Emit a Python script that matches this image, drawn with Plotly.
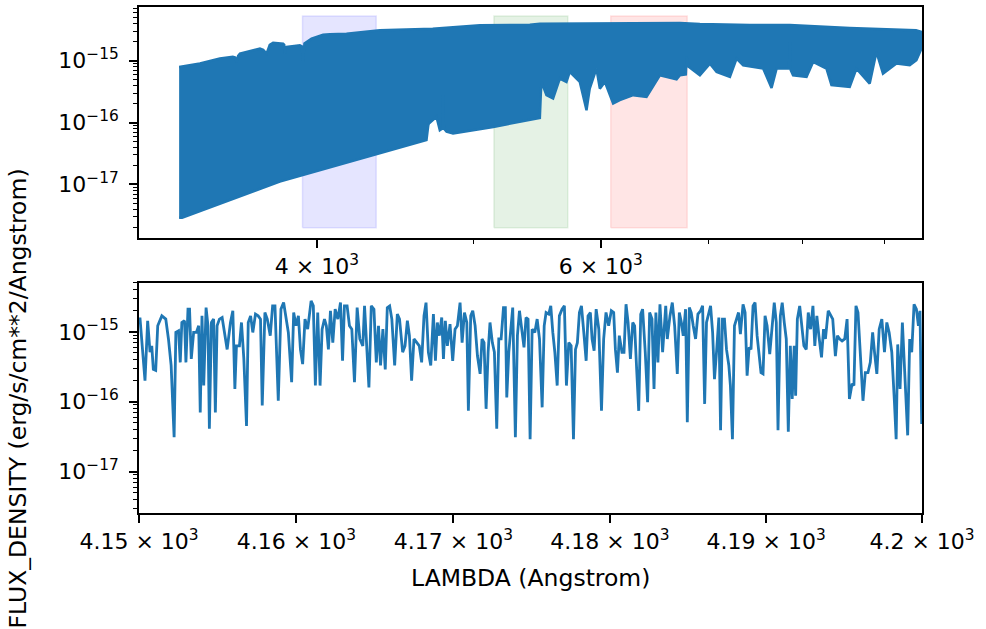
import numpy as np
import plotly.graph_objects as go

# ---------------- data ----------------
FLUX_UNIT = 1e-15  # flux values below are in units of 1e-15 erg/s/cm**2/Angstrom

# Top panel: envelope of the densely sampled full spectrum (Angstrom, flux units)
upper_lambda = [3286, 3385, 3483, 3548, 3560, 3567, 3575, 3584, 3688, 3705, 3723, 3740, 3758,
                3812, 3818, 3822, 3826, 3831, 3904, 3915, 3922, 3930, 3970, 4036, 4075, 4173,
                4376, 4720, 5049, 5422, 5500, 6104, 6718, 6912, 7422, 7859, 8561, 9411, 9492]
upper_flux = [0.79, 0.90, 1.08, 1.15, 1.12, 0.95, 1.20, 1.30, 1.56, 1.50, 1.30, 1.80, 1.95,
              1.88, 1.80, 1.30, 1.60, 1.66, 1.77, 1.70, 0.95, 1.90, 2.26, 2.63, 2.67, 2.73,
              3.09, 3.28, 3.72, 3.81, 3.95, 3.95, 4.05, 3.91, 3.77, 3.77, 3.37, 3.09, 2.90]

lower_lambda = [3286, 3300, 3794, 4075, 4356, 4678, 4690, 4694, 4745, 4760, 4768, 4785, 4790,
                4796, 4814, 4859, 5146, 5500, 5508, 5513, 5552, 5605, 5659, 5713, 5740, 5823,
                5879, 5906, 5963, 5992, 6035, 6107, 6165, 6284, 6405, 6528, 6686, 6718, 6775,
                6782, 6800, 6912, 7012, 7079, 7215, 7284, 7353, 7566, 7657, 7712, 7850, 7859,
                7870, 7896, 8049, 8125, 8282, 8341, 8561, 8644, 8809, 8894, 8978, 9152, 9327,
                9416, 9484]
lower_flux = [0.0029, 0.0029, 0.0111, 0.0186, 0.0305, 0.052, 0.09, 0.096, 0.124, 0.09, 0.075,
              0.08, 0.277, 0.08, 0.071, 0.0665, 0.085, 0.119, 0.3, 0.453, 0.277, 0.244, 0.513,
              0.453, 0.657, 0.453, 0.158, 0.353, 0.743, 0.353, 0.453, 0.2025, 0.23, 0.277, 0.26,
              0.581, 0.50, 0.58, 0.6, 1.15, 0.8, 0.58, 0.895, 0.657, 0.546, 1.077, 0.843, 0.743,
              0.363, 0.743, 0.75, 2.0, 0.7, 0.581, 0.546, 0.953, 0.743, 0.401, 0.377, 0.743,
              0.426, 1.381, 0.617, 0.895, 0.843, 1.015, 1.561]

# Filter bands (Angstrom) and their vertical extent (flux units)
band_names = ["B", "V", "R"]
band_start = [3919, 5151, 6086]
band_end = [4354, 5724, 6788]
band_colors = ["rgba(0,0,255,0.10)", "rgba(0,128,0,0.10)", "rgba(255,0,0,0.10)"]
band_flux_low = 0.0020
band_flux_high = 5.26

# Bottom panel: zoom 4150-4200 Angstrom
zoom_lambda = [
    4150.06, 4150.21, 4150.38, 4150.55, 4150.70, 4150.81, 4150.91, 4151.06, 4151.19, 4151.45,
    4151.70, 4151.87, 4152.04, 4152.23, 4152.34, 4152.51, 4152.62, 4152.72, 4152.89, 4152.98,
    4153.11, 4153.21, 4153.32, 4153.47, 4153.64, 4153.79, 4153.89, 4154.00, 4154.11, 4154.26,
    4154.38, 4154.47, 4154.60, 4154.74, 4154.85, 4154.96, 4155.11, 4155.28, 4155.45, 4155.60,
    4155.81, 4155.96, 4156.09, 4156.19, 4156.38, 4156.51, 4156.66, 4156.83, 4156.94, 4157.09,
    4157.23, 4157.40, 4157.57, 4157.72, 4157.83, 4158.00, 4158.15,
    4158.34, 4158.49, 4158.64, 4158.85, 4159.02, 4159.19, 4159.34, 4159.49, 4159.70, 4159.83,
    4159.98, 4160.13, 4160.26, 4160.40, 4160.55, 4160.72, 4160.94, 4161.08, 4161.21, 4161.36,
    4161.51, 4161.64, 4161.79, 4161.91, 4162.04, 4162.17, 4162.32, 4162.47, 4162.64, 4162.81,
    4162.94, 4163.06, 4163.23, 4163.38, 4163.53, 4163.70, 4163.87, 4164.04, 4164.23, 4164.34,
    4164.49, 4164.62, 4164.77, 4164.94, 4165.09, 4165.23, 4165.36, 4165.51, 4165.66, 4165.79,
    4165.94, 4166.08, 4166.26, 4166.43, 4166.57,
    4166.77, 4166.92, 4167.07, 4167.20, 4167.34, 4167.49, 4167.66, 4167.83, 4167.98, 4168.13,
    4168.26, 4168.41, 4168.56, 4168.73, 4168.86, 4168.98, 4169.11, 4169.26, 4169.37, 4169.49,
    4169.62, 4169.79, 4169.96, 4170.11, 4170.26, 4170.43, 4170.56, 4170.71, 4170.86, 4170.96,
    4171.11, 4171.24, 4171.39, 4171.54, 4171.71, 4171.83, 4171.96, 4172.09, 4172.22, 4172.34,
    4172.49, 4172.62, 4172.77, 4172.90, 4173.05, 4173.20, 4173.32, 4173.41, 4173.54, 4173.66,
    4173.79, 4173.96, 4174.09, 4174.22, 4174.37, 4174.51, 4174.64, 4174.77, 4174.90, 4175.03,
    4175.20, 4175.35, 4175.50, 4175.67, 4175.80, 4175.92, 4176.09, 4176.22, 4176.35, 4176.48,
    4176.63, 4176.77, 4176.94, 4177.09, 4177.22, 4177.37, 4177.52, 4177.67, 4177.80, 4177.92,
    4178.05, 4178.18, 4178.33, 4178.48, 4178.60, 4178.75, 4178.86, 4178.99, 4179.12, 4179.29,
    4179.46, 4179.60, 4179.75, 4179.92, 4180.09, 4180.24, 4180.35, 4180.48, 4180.60, 4180.77,
    4180.90, 4181.03, 4181.16, 4181.31, 4181.46, 4181.58, 4181.71, 4181.84, 4181.97, 4182.09,
    4182.26, 4182.41, 4182.54, 4182.69, 4182.82, 4182.94, 4183.07, 4183.20, 4183.37,
    4183.46, 4183.57, 4183.67, 4183.84, 4183.99, 4184.14, 4184.31, 4184.44, 4184.57, 4184.69,
    4184.84, 4184.95, 4185.08, 4185.20, 4185.33, 4185.48, 4185.63, 4185.80, 4185.93, 4186.06,
    4186.18, 4186.33, 4186.44, 4186.57, 4186.69, 4186.82, 4186.97, 4187.08, 4187.20, 4187.33,
    4187.46, 4187.61, 4187.71, 4187.84, 4187.97, 4188.10, 4188.23, 4188.35, 4188.52, 4188.65,
    4188.78, 4188.91, 4189.03, 4189.16, 4189.29, 4189.42, 4189.54, 4189.67, 4189.80, 4189.93,
    4190.06, 4190.23, 4190.37, 4190.52, 4190.65, 4190.76, 4190.91, 4191.03, 4191.16, 4191.29,
    4191.42, 4191.55, 4191.67, 4191.80,
    4191.89, 4192.00, 4192.15, 4192.27, 4192.42, 4192.57, 4192.70, 4192.85, 4193.00, 4193.12,
    4193.25, 4193.38, 4193.55, 4193.68, 4193.80, 4193.98, 4194.12, 4194.27, 4194.44, 4194.57,
    4194.72, 4194.87, 4195.04, 4195.19, 4195.34, 4195.51, 4195.63, 4195.76, 4195.89, 4196.04,
    4196.21, 4196.36, 4196.53, 4196.68, 4196.83, 4196.95, 4197.10, 4197.25, 4197.42, 4197.59,
    4197.74, 4197.89, 4198.06, 4198.23, 4198.34, 4198.44, 4198.59, 4198.74, 4198.91, 4199.08,
    4199.21, 4199.34, 4199.49, 4199.64, 4199.77, 4199.87, 4199.98,
]
zoom_flux = [
    1.60, 0.51, 0.20, 1.44, 0.51, 0.63, 0.29, 0.28, 1.22, 1.69,
    1.52, 0.79, 0.33, 0.031, 0.98, 1.03, 0.365, 1.36, 1.44, 0.365,
    2.11, 2.11, 0.41, 0.98, 0.98, 1.22, 0.070, 1.69, 0.17, 2.22,
    1.22, 0.041, 1.36, 1.52, 0.070, 1.22, 1.52, 1.60, 0.98, 0.56,
    1.36, 2.0, 0.152, 0.63, 0.63, 1.36, 0.41, 0.045, 1.36, 1.69,
    0.98, 1.79, 1.69, 1.52, 0.088, 1.89, 1.52,
    0.88, 2.35, 2.35, 0.103, 2.11, 2.62, 1.52, 0.98, 0.19, 1.89,
    1.22, 1.69, 0.56, 0.345, 1.52, 1.09, 2.77, 2.35, 0.17, 1.89,
    0.17, 1.09, 1.52, 1.22, 0.56, 2.0, 0.70, 2.11, 1.52, 2.62,
    0.385, 2.35, 2.35, 1.22, 1.09, 0.19, 2.22, 0.79, 0.63, 2.35,
    0.56, 0.16, 2.35, 2.11, 0.365, 1.22, 0.33, 1.09, 0.29, 2.22,
    2.35, 1.52, 0.33, 1.79, 1.52,
    0.51, 0.63, 1.44, 0.88, 0.20, 0.79, 0.70, 0.63, 0.365, 1.69,
    2.62, 0.51, 0.33, 1.79, 0.385, 1.36, 0.88, 1.60, 0.41, 1.44,
    0.63, 1.29, 0.385, 1.09, 1.22, 2.62, 0.70, 1.89, 1.36, 0.074,
    1.69, 2.0, 1.22, 0.45, 0.25, 0.79, 0.70, 0.079, 0.51, 1.36,
    0.70, 0.51, 0.041, 0.79, 0.79, 2.22, 2.22, 0.115, 0.51, 1.09,
    2.22, 0.031, 0.88, 2.0, 0.98, 0.60, 1.60, 1.52, 0.029, 1.09,
    0.98, 1.52, 0.79, 0.083, 1.22, 1.89, 1.79, 2.35, 0.98, 0.51,
    0.17, 1.69, 2.11, 2.35, 0.17, 0.70, 0.63, 0.029, 0.56, 0.70,
    1.89, 2.35, 0.98, 0.385, 1.69, 1.89, 0.79, 0.535, 2.11, 1.09,
    0.074, 0.79, 1.89, 1.22, 2.0, 1.89, 0.56, 0.26, 0.88, 0.51,
    0.51, 2.48, 1.36, 0.41, 1.36, 1.22, 0.29, 0.074, 1.79, 2.11,
    0.51, 0.098, 1.89, 1.52, 0.152, 1.89, 0.365, 2.48, 0.51,
    1.09, 2.35, 0.79, 1.69, 2.62, 1.22, 0.25, 1.89, 1.36, 0.88,
    2.11, 0.051, 2.22, 1.89, 1.22, 0.79, 1.79, 2.0, 2.35, 0.093,
    1.36, 1.89, 2.35, 0.98, 0.21, 0.51, 1.60, 0.039, 1.52, 1.52,
    0.56, 0.33, 0.17, 0.029, 1.22, 1.52, 1.89, 0.93, 2.48, 1.89,
    0.235, 0.60, 0.56, 2.35, 2.62, 0.88, 0.51, 0.26, 0.25, 1.69,
    1.22, 0.48, 1.09, 2.62, 1.36, 0.039, 1.69, 2.62, 1.36, 0.79,
    0.037, 0.63, 0.109, 0.63,
    0.122, 1.52, 2.35, 1.22, 0.63, 0.56, 1.89, 1.09, 2.35, 0.63,
    1.69, 0.88, 0.43, 1.09, 0.79, 2.0, 1.79, 1.52, 0.45, 0.88,
    0.79, 0.74, 0.79, 1.52, 0.109, 0.18, 0.17, 2.35, 1.89, 0.51,
    0.103, 0.26, 0.26, 0.365, 0.98, 0.51, 0.25, 1.09, 1.52, 0.51,
    1.36, 0.98, 0.51, 0.098, 0.029, 0.66, 0.152, 1.36, 0.26, 0.033,
    0.79, 0.51, 2.48, 2.11, 1.22, 2.0, 0.048,
]
assert len(zoom_lambda) == len(zoom_flux)
assert len(upper_lambda) == len(upper_flux)
assert len(lower_lambda) == len(lower_flux)

# Axis limits / ticks
top_xlim = [3103, 9492]
top_ylim = [1.36e-18, 7.35e-15]
bot_xlim = [4150, 4200]
bot_ylim = [2.55e-18, 5.06e-15]
top_xticks = [4000, 6000]
top_xticktext = ["4 × 10<sup>3</sup>", "6 × 10<sup>3</sup>"]
top_xminor = [5000, 7000, 8000, 9000]
bot_xticks = [4150, 4160, 4170, 4180, 4190, 4200]
bot_xticktext = ["4.15 × 10<sup>3</sup>", "4.16 × 10<sup>3</sup>", "4.17 × 10<sup>3</sup>",
                 "4.18 × 10<sup>3</sup>", "4.19 × 10<sup>3</sup>", "4.2 × 10<sup>3</sup>"]
y_decades = [-17, -16, -15]

# ---------------- figure ----------------
BLUE = "#1f77b4"
FONT = "DejaVu Sans"
fig = go.Figure()

# filter bands
for name, x0, x1, col in zip(band_names, band_start, band_end, band_colors):
    fig.add_trace(go.Scatter(
        x=[x0, x1, x1, x0, x0],
        y=[band_flux_low * FLUX_UNIT, band_flux_low * FLUX_UNIT, band_flux_high * FLUX_UNIT,
           band_flux_high * FLUX_UNIT, band_flux_low * FLUX_UNIT],
        fill="toself", fillcolor=col, line=dict(color=col, width=1.5),
        mode="lines", hoverinfo="skip", showlegend=False, xaxis="x", yaxis="y", name=name))

# full spectrum (dense, drawn as its envelope)
poly_x = list(upper_lambda) + list(lower_lambda[::-1])
poly_y = list(np.array(upper_flux) * FLUX_UNIT) + list(np.array(lower_flux[::-1]) * FLUX_UNIT)
fig.add_trace(go.Scatter(x=poly_x, y=poly_y, fill="toself", fillcolor=BLUE,
                         line=dict(color=BLUE, width=2.5), mode="lines",
                         showlegend=False, xaxis="x", yaxis="y"))

# zoomed spectrum
fig.add_trace(go.Scatter(x=zoom_lambda, y=np.array(zoom_flux) * FLUX_UNIT, mode="lines",
                         line=dict(color=BLUE, width=2.8), showlegend=False,
                         xaxis="x2", yaxis="y2"))

y_minor = [m * 10.0 ** e for e in range(-19, -13) for m in range(2, 10)]
y_major_vals = [10.0 ** e for e in y_decades]
y_major_text = ["10<sup>\u2212%d</sup>" % (-e) for e in y_decades]

axis_common = dict(showline=True, linecolor="black", linewidth=1.6, mirror=True,
                   ticks="outside", ticklen=8, tickwidth=1.6, tickcolor="black",
                   showgrid=False, zeroline=False, tickfont=dict(family=FONT, size=22, color="black"))

def yminor(lim):
    vals = [v for v in y_minor if lim[0] <= v <= lim[1]]
    return dict(tickmode="array", tickvals=vals, ticks="outside", ticklen=4.5,
                tickwidth=1.2, tickcolor="black", showgrid=False)

fig.update_layout(
    width=986, height=629,
    margin=dict(l=139, r=64, t=5, b=116),
    paper_bgcolor="white", plot_bgcolor="white",
    font=dict(family=FONT, size=22, color="black"),
    xaxis=dict(type="log", domain=[0, 1], anchor="y",
               range=[np.log10(top_xlim[0]), np.log10(top_xlim[1])],
               tickmode="array", tickvals=top_xticks, ticktext=top_xticktext,
               minor=dict(tickmode="array", tickvals=top_xminor, ticks="outside",
                          ticklen=4.5, tickwidth=1.2, tickcolor="black", showgrid=False),
               **axis_common),
    yaxis=dict(type="log", domain=[0.5433, 1], anchor="x",
               range=[np.log10(top_ylim[0]), np.log10(top_ylim[1])],
               tickmode="array", tickvals=y_major_vals, ticktext=y_major_text,
               ticklabelstandoff=6, minor=yminor(top_ylim), **axis_common),
    xaxis2=dict(type="log", domain=[0, 1], anchor="y2",
                range=[np.log10(bot_xlim[0]), np.log10(bot_xlim[1])],
                tickmode="array", tickvals=bot_xticks, ticktext=bot_xticktext,
                **axis_common),
    yaxis2=dict(type="log", domain=[0, 0.4553], anchor="x2",
                range=[np.log10(bot_ylim[0]), np.log10(bot_ylim[1])],
                tickmode="array", tickvals=y_major_vals, ticktext=y_major_text,
                ticklabelstandoff=6, minor=yminor(bot_ylim), **axis_common),
)

fig.add_annotation(text="LAMBDA (Angstrom)", xref="paper", yref="paper",
                   x=0.5, y=-0.128, xanchor="center", yanchor="middle", showarrow=False,
                   font=dict(family=FONT, size=23.5, color="black"))
fig.add_annotation(text="FLUX_DENSITY (erg/s/cm**2/Angstrom)", xref="paper", yref="paper",
                   x=-0.1545, y=0.2264, xanchor="center", yanchor="middle", textangle=-90,
                   showarrow=False, font=dict(family=FONT, size=23.5, color="black"))

fig.write_html("out.html")
